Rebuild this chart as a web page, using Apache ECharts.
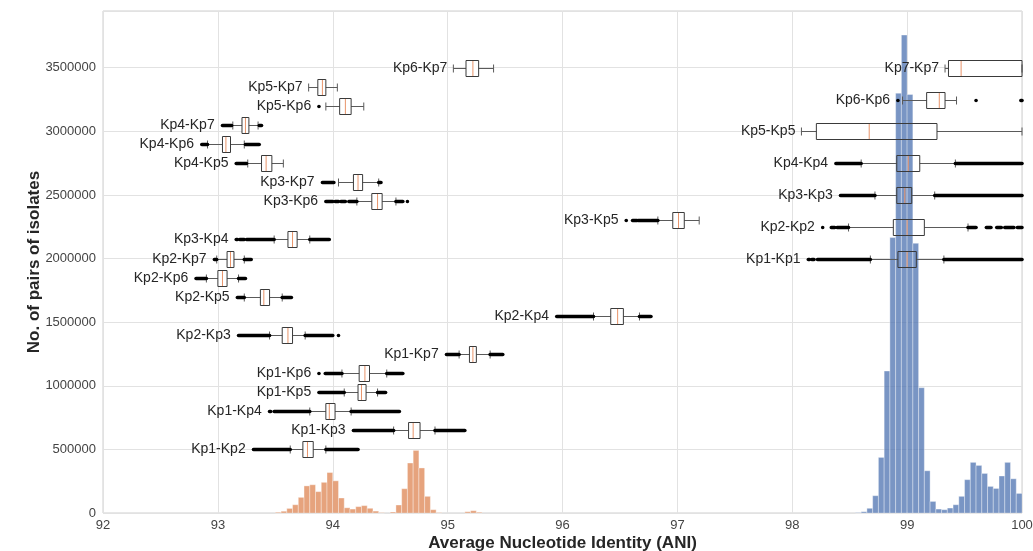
<!DOCTYPE html>
<html><head><meta charset="utf-8">
<script src="https://cdn.jsdelivr.net/npm/echarts@6.0.0/dist/echarts.min.js"></script>
<style>html,body{margin:0;padding:0;background:#fff}#c{width:1033px;height:551px}</style>
</head><body><div id="c"></div>
<script>
// ---------- DATA ----------
const X_MIN = 92, X_MAX = 100, X_STEP = 1;
const Y_MIN = 0, Y_MAX = 3946000, Y_STEP = 500000;
const BIN_W = 0.05;

// histogram of inter-species pairs (orange)
const interBinStarts = [93.50,93.55,93.60,93.65,93.70,93.75,93.80,93.85,93.90,93.95,94.00,94.05,94.10,94.15,94.20,94.25,94.30,94.35,94.40,
  94.50,94.55,94.60,94.65,94.70,94.75,94.80,94.85,94.90,95.15,95.20,95.25];
const interCounts = [6000,14000,36000,65000,123000,213000,222000,168000,241000,318000,253000,118000,41000,31000,50000,58000,37000,15000,3000,
  8000,63000,191000,393000,492000,354000,131000,26000,3000,10000,18000,6000];

// histogram of intra-species pairs (blue)
const intraBinStarts = [98.55,98.60,98.65,98.70,98.75,98.80,98.85,98.90,98.95,99.00,99.05,99.10,99.15,99.20,99.25,99.30,99.35,99.40,99.45,
  99.50,99.55,99.60,99.65,99.70,99.75,99.80,99.85,99.90,99.95];
const intraCounts = [3000,10000,37000,136000,437000,1116000,2165000,3300000,3757000,3290000,2120000,985000,332000,91000,31000,26000,39000,65000,131000,
  262000,398000,374000,311000,209000,193000,291000,398000,269000,154000];

// box plots: names, vertical position, [whiskerLow, Q1, median, Q3, whiskerHigh], outlier ranges [from, to]
const boxNames = ['Kp1-Kp2','Kp1-Kp3','Kp1-Kp4','Kp1-Kp5','Kp1-Kp6','Kp1-Kp7','Kp2-Kp3','Kp2-Kp4','Kp2-Kp5','Kp2-Kp6','Kp2-Kp7',
  'Kp3-Kp4','Kp3-Kp5','Kp3-Kp6','Kp3-Kp7','Kp4-Kp5','Kp4-Kp6','Kp4-Kp7','Kp5-Kp6','Kp5-Kp7','Kp6-Kp7',
  'Kp1-Kp1','Kp2-Kp2','Kp3-Kp3','Kp4-Kp4','Kp5-Kp5','Kp6-Kp6','Kp7-Kp7'];
const boxY = [500000,650000,800000,950000,1100000,1250000,1400000,1550000,1700000,1850000,2000000,
  2150000,2300000,2450000,2600000,2750000,2900000,3050000,3200000,3350000,3500000,
  2000000,2250000,2500000,2750000,3000000,3250000,3500000];
const boxStats = [
  [93.63,93.74,93.78,93.83,93.94],
  [94.53,94.66,94.70,94.76,94.89],
  [93.80,93.94,93.97,94.02,94.16],
  [94.10,94.22,94.25,94.29,94.39],
  [94.08,94.23,94.28,94.32,94.47],
  [95.10,95.19,95.22,95.25,95.37],
  [93.45,93.56,93.61,93.65,93.76],
  [96.27,96.42,96.48,96.53,96.67],
  [93.23,93.37,93.40,93.45,93.56],
  [92.90,93.00,93.04,93.08,93.18],
  [92.99,93.08,93.11,93.14,93.23],
  [93.49,93.61,93.65,93.69,93.80],
  [96.83,96.96,97.01,97.06,97.19],
  [94.21,94.34,94.39,94.43,94.55],
  [94.05,94.18,94.22,94.26,94.40],
  [93.26,93.38,93.42,93.47,93.57],
  [92.91,93.04,93.07,93.11,93.23],
  [93.13,93.21,93.24,93.27,93.35],
  [93.94,94.06,94.11,94.16,94.27],
  [93.79,93.87,93.91,93.94,94.04],
  [95.05,95.16,95.22,95.27,95.40],
  [98.68,98.92,99.00,99.08,99.32],
  [98.49,98.88,99.00,99.15,99.53],
  [98.72,98.91,98.98,99.04,99.24],
  [98.60,98.91,99.01,99.11,99.42],
  [98.08,98.21,98.67,99.26,100.0],
  [98.96,99.17,99.28,99.33,99.43],
  [99.33,99.36,99.47,100.0,100.0]
];
const boxOutliers = [
  [[93.31,93.63],[93.94,94.22]],
  [[94.18,94.53],[94.89,95.15]],
  [[93.45,93.46],[93.49,93.80],[94.16,94.58]],
  [[93.88,94.10],[94.39,94.46]],
  [[93.88,93.88],[93.935,94.08],[94.47,94.61]],
  [[94.99,95.10],[95.37,95.48]],
  [[93.18,93.45],[93.76,94.00],[94.05,94.05]],
  [[95.95,96.27],[96.67,96.77]],
  [[93.17,93.23],[93.56,93.64]],
  [[92.81,92.90],[93.18,93.24]],
  [[92.97,92.99],[93.23,93.29]],
  [[93.16,93.17],[93.19,93.23],[93.25,93.49],[93.80,93.97]],
  [[96.555,96.555],[96.61,96.65],[96.66,96.83]],
  [[93.94,94.00],[94.02,94.05],[94.07,94.11],[94.14,94.21],[94.55,94.61],[94.65,94.65]],
  [[93.91,94.01],[94.40,94.42]],
  [[93.16,93.25]],
  [[92.86,92.91],[93.24,93.36]],
  [[93.04,93.12],[93.36,93.38]],
  [[93.88,93.88]],
  [],
  [],
  [[98.14,98.15],[98.17,98.19],[98.22,98.68],[99.32,100.0]],
  [[98.265,98.265],[98.34,98.37],[98.39,98.49],[99.53,99.60],[99.69,99.73],[99.78,99.82],[99.85,99.93],[99.96,100.0]],
  [[98.42,98.72],[99.24,100.0]],
  [[98.38,98.60],[99.42,100.0]],
  [],
  [[98.92,98.92],[99.60,99.60],[99.99,100.0]],
  []
];

// ---------- STYLE ----------
const ORANGE = '#dd8452', BLUE = '#4c72b0';
const BOX_H = 16, CAP_W = 8, OUT_H = 3.6;
const BOX_EDGE = '#3a3a3a', WHISKER = '#5a5a5a', MEDIAN = '#e8946a';
const TEXT = '#262626', TICK = '#444444';
const FONT = '"Liberation Sans", Arial, sans-serif';

const chart = echarts.init(document.getElementById('c'), null, {renderer: 'canvas'});

function histRender(starts, counts, color) {
  return function (params, api) {
    const i = params.dataIndex;
    const p0 = api.coord([starts[i], 0]);
    const p1 = api.coord([starts[i] + BIN_W, counts[i]]);
    return {
      type: 'rect',
      shape: {x: p0[0], y: p1[1], width: p1[0] - p0[0], height: p0[1] - p1[1]},
      style: {fill: color, opacity: 0.75, stroke: 'rgba(255,255,255,0.8)', lineWidth: 0.6}
    };
  };
}

function boxFillRender(params, api) {
  const i = params.dataIndex;
  const s = boxStats[i];
  const a = api.coord([s[1], boxY[i]]);
  const b = api.coord([s[3], boxY[i]]);
  return {type: 'rect', shape: {x: a[0], y: a[1] - BOX_H / 2, width: b[0] - a[0], height: BOX_H},
    style: {fill: '#ffffff'}};
}

function boxLineRender(params, api) {
  const i = params.dataIndex;
  const s = boxStats[i];
  const y = boxY[i];
  const X = v => api.coord([v, y])[0];
  const py = Math.round(api.coord([s[2], y])[1]) + 0.5;
  const ch = [];
  const ln = (x1, y1, x2, y2, c) => ch.push({type: 'line', shape: {x1, y1, x2, y2}, style: {stroke: c, lineWidth: 1}});
  // whiskers
  ln(X(s[0]), py, X(s[1]), py, WHISKER);
  ln(X(s[3]), py, X(s[4]), py, WHISKER);
  ln(X(s[0]), py - CAP_W / 2, X(s[0]), py + CAP_W / 2, WHISKER);
  ln(X(s[4]), py - CAP_W / 2, X(s[4]), py + CAP_W / 2, WHISKER);
  // box
  ch.push({type: 'rect', shape: {x: X(s[1]), y: py - BOX_H / 2, width: X(s[3]) - X(s[1]), height: BOX_H},
    style: {fill: 'none', stroke: BOX_EDGE, lineWidth: 1}});
  // median
  ln(X(s[2]), py - BOX_H / 2 + 0.5, X(s[2]), py + BOX_H / 2 - 0.5, MEDIAN);
  // outliers
  let left = X(s[0]);
  boxOutliers[i].forEach(r => {
    const xa = X(r[0]) - OUT_H / 2, xb = X(r[1]) + OUT_H / 2;
    left = Math.min(left, xa);
    ch.push({type: 'rect', shape: {x: xa, y: py - OUT_H / 2, width: xb - xa, height: OUT_H, r: OUT_H / 2},
      style: {fill: '#000000'}});
  });
  // label
  ch.push({type: 'text', x: left - 6, y: py,
    style: {text: boxNames[i], fill: TEXT, font: '14px ' + FONT, align: 'right', verticalAlign: 'middle'}});
  return {type: 'group', children: ch};
}

const idx = arr => arr.map((_, k) => [k]);

chart.setOption({
  animation: false,
  backgroundColor: '#ffffff',
  textStyle: {fontFamily: FONT},
  grid: {left: 103, right: 11, top: 11, bottom: 38, containLabel: false, outerBoundsMode: 'none',
    show: true, borderColor: '#cfcfcf', borderWidth: 1, backgroundColor: 'transparent'},
  xAxis: {
    type: 'value', min: X_MIN, max: X_MAX, interval: X_STEP,
    axisLine: {show: false}, axisTick: {show: false},
    axisLabel: {color: TICK, fontSize: 13, margin: 6, fontFamily: FONT},
    splitLine: {show: true, lineStyle: {color: '#e2e2e2', width: 1}},
    name: 'Average Nucleotide Identity (ANI)', nameLocation: 'middle', nameGap: 22, nameMoveOverlap: false,
    nameTextStyle: {color: TEXT, fontSize: 17, fontWeight: 'bold', fontFamily: FONT}
  },
  yAxis: {
    type: 'value', min: Y_MIN, max: Y_MAX, interval: Y_STEP,
    axisLine: {show: false}, axisTick: {show: false},
    axisLabel: {color: TICK, fontSize: 13, margin: 7, fontFamily: FONT,
      formatter: v => (v % Y_STEP === 0 ? String(v) : '')},
    splitLine: {show: true, lineStyle: {color: '#e2e2e2', width: 1}},
    name: 'No. of pairs of isolates', nameLocation: 'middle', nameGap: 60, nameMoveOverlap: false,
    nameTextStyle: {color: TEXT, fontSize: 17, fontWeight: 'bold', fontFamily: FONT}
  },
  series: [
    {type: 'custom', name: 'boxfill', silent: true, z: 2, renderItem: boxFillRender, data: idx(boxNames), encode: {x: -1, y: -1}},
    {type: 'custom', name: 'inter', silent: true, z: 3, renderItem: histRender(interBinStarts, interCounts, ORANGE), data: idx(interCounts), encode: {x: -1, y: -1}},
    {type: 'custom', name: 'intra', silent: true, z: 3, renderItem: histRender(intraBinStarts, intraCounts, BLUE), data: idx(intraCounts), encode: {x: -1, y: -1}},
    {type: 'custom', name: 'boxes', silent: true, z: 4, renderItem: boxLineRender, data: idx(boxNames), encode: {x: -1, y: -1}}
  ]
});
</script></body></html>
